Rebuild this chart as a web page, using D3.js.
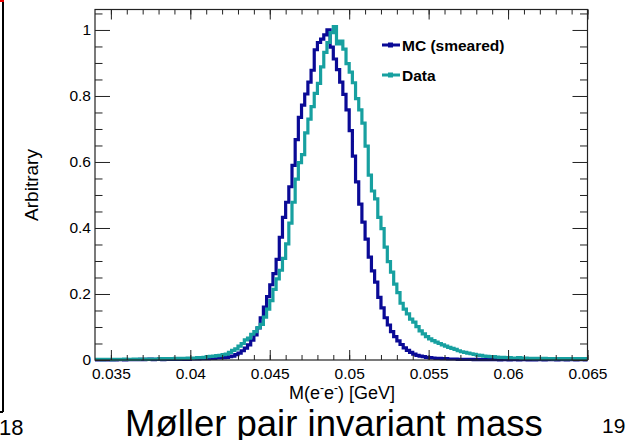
<!DOCTYPE html>
<html>
<head>
<meta charset="utf-8">
<script src="https://cdn.jsdelivr.net/npm/d3@7"></script>
<style>
  body { margin: 0; background: #fff; }
  svg text { font-family: "Liberation Sans", Arial, sans-serif; }
</style>
</head>
<body>
<script>
// histogram binning (GeV)
var binStart = 0.034;
var binWidth = 0.0002;

// MC (smeared), normalised to peak
var mcValues = [
  0.000,0.000,0.000,0.001,0.000,0.001,0.000,0.001,0.001,0.000,
  0.001,0.001,0.001,0.001,0.002,0.001,0.002,0.003,0.001,0.002,
  0.002,0.001,0.002,0.002,0.002,0.003,0.002,0.002,0.003,0.002,
  0.003,0.003,0.003,0.004,0.004,0.004,0.005,0.005,0.006,0.006,
  0.007,0.008,0.010,0.012,0.016,0.021,0.028,0.036,0.046,0.060,
  0.076,0.097,0.128,0.160,0.192,0.228,0.262,0.305,0.372,0.432,
  0.478,0.525,0.590,0.668,0.735,0.772,0.806,0.842,0.878,0.940,
  0.962,0.972,0.985,1.000,0.948,0.912,0.880,0.842,0.805,0.758,
  0.695,0.618,0.540,0.472,0.418,0.366,0.312,0.270,0.236,0.190,
  0.158,0.128,0.106,0.086,0.071,0.058,0.047,0.037,0.029,0.023,
  0.018,0.014,0.012,0.010,0.008,0.007,0.006,0.005,0.005,0.004,
  0.004,0.003,0.003,0.003,0.002,0.002,0.002,0.002,0.002,0.001,
  0.002,0.001,0.001,0.001,0.001,0.001,0.001,0.000,0.001,0.001,
  0.000,0.001,0.001,0.000,0.001,0.001,0.000,0.001,0.000,0.001,
  0.001,0.000,0.001,0.001,0.001,0.000,0.001,0.001,0.000,0.001,
  0.001,0.000,0.001,0.001,0.000
];

// Data, normalised to peak
var dataValues = [
  0.002,0.002,0.001,0.002,0.002,0.001,0.002,0.002,0.002,0.003,
  0.002,0.002,0.003,0.002,0.003,0.003,0.002,0.003,0.003,0.003,
  0.004,0.003,0.004,0.004,0.004,0.005,0.004,0.005,0.005,0.006,
  0.005,0.006,0.007,0.007,0.008,0.010,0.011,0.012,0.013,0.014,
  0.016,0.018,0.023,0.029,0.034,0.042,0.050,0.061,0.066,0.078,
  0.086,0.098,0.108,0.130,0.154,0.180,0.214,0.246,0.272,0.308,
  0.352,0.415,0.478,0.548,0.598,0.622,0.688,0.730,0.768,0.808,
  0.838,0.888,0.932,0.962,0.992,1.010,0.958,0.966,0.942,0.898,
  0.872,0.840,0.792,0.758,0.718,0.648,0.560,0.512,0.488,0.432,
  0.398,0.342,0.298,0.266,0.230,0.204,0.172,0.154,0.140,0.124,
  0.115,0.101,0.088,0.079,0.071,0.064,0.059,0.054,0.050,0.046,
  0.042,0.038,0.035,0.032,0.028,0.025,0.023,0.021,0.019,0.017,
  0.015,0.014,0.012,0.011,0.010,0.010,0.009,0.008,0.008,0.007,
  0.007,0.006,0.006,0.007,0.005,0.006,0.005,0.005,0.004,0.005,
  0.004,0.005,0.004,0.004,0.003,0.004,0.004,0.003,0.004,0.003,
  0.004,0.003,0.004,0.003,0.004
];

var seriesNames = ["MC (smeared)", "Data"];
var seriesColors = ["#0a0a96", "#17a0a0"];

var xTicks = [0.035, 0.04, 0.045, 0.05, 0.055, 0.06, 0.065];
var xTickLabels = ["0.035", "0.04", "0.045", "0.05", "0.055", "0.06", "0.065"];
var xMinor = [0.035,0.036,0.037,0.038,0.039,0.040,0.041,0.042,0.043,0.044,0.045,0.046,0.047,0.048,0.049,0.050,
              0.051,0.052,0.053,0.054,0.055,0.056,0.057,0.058,0.059,0.060,0.061,0.062,0.063,0.064,0.065];
var yTicks = [0, 0.2, 0.4, 0.6, 0.8, 1];
var yTickLabels = ["0", "0.2", "0.4", "0.6", "0.8", "1"];
var yMinor = [0.05,0.1,0.15,0.25,0.3,0.35,0.45,0.5,0.55,0.65,0.7,0.75,0.85,0.9,0.95,1.05];

var svg = d3.select("body").append("svg").attr("width", 626).attr("height", 440);

var x = d3.scaleLinear().domain([0.034, 0.065]).range([95, 587.5]);
var y = d3.scaleLinear().domain([0, 1.062]).range([360, 9.5]);

// slide leftovers
svg.append("line").attr("x1", 3).attr("x2", 3).attr("y1", 0).attr("y2", 412).attr("stroke", "#000").attr("stroke-width", 2);
svg.append("line").attr("x1", 0).attr("x2", 3).attr("y1", 412).attr("y2", 412).attr("stroke", "#000").attr("stroke-width", 2);
svg.append("line").attr("x1", 0).attr("x2", 4).attr("y1", 1).attr("y2", 1).attr("stroke", "#e00").attr("stroke-width", 2);
svg.append("text").attr("x", -1).attr("y", 435).attr("font-size", 22).text("18");
svg.append("text").attr("x", 602).attr("y", 433).attr("font-size", 21).text("19");

// histograms
function histPoints(values){
  var pts = values.map(function(v,i){ return [binStart + i*binWidth, v]; });
  pts.push([binStart + values.length*binWidth, values[values.length-1]]);
  return pts;
}
var line = d3.line().x(function(d){ return x(d[0]); }).y(function(d){ return y(d[1]); }).curve(d3.curveStepAfter);

var allSeries = [mcValues, dataValues];
allSeries.forEach(function(vals,i){
  svg.append("path").attr("d", line(histPoints(vals)))
    .attr("fill", "none").attr("stroke", seriesColors[i]).attr("stroke-width", 3.2)
    .attr("stroke-linejoin", "miter");
});

// axes (ROOT style, ticks inside)
function styleAxis(g){
  g.select(".domain").remove();
  g.selectAll(".tick line").attr("stroke", "#222");
  g.selectAll("text").attr("font-size", 15.5).attr("fill", "#000").attr("font-family", "Liberation Sans, Arial, sans-serif");
}
svg.append("g").attr("transform", "translate(0,360)")
  .call(d3.axisBottom(x).tickValues(xTicks).tickFormat(function(d,i){ return xTickLabels[i]; }).tickSizeInner(-10).tickSizeOuter(0).tickPadding(8))
  .call(styleAxis);
svg.append("g").attr("transform", "translate(0,360)")
  .call(d3.axisBottom(x).tickValues(xMinor).tickFormat("").tickSizeInner(-5).tickSizeOuter(0))
  .call(styleAxis);
svg.append("g").attr("transform", "translate(0,9.5)")
  .call(d3.axisTop(x).tickValues(xTicks).tickFormat("").tickSizeInner(-10).tickSizeOuter(0))
  .call(styleAxis);
svg.append("g").attr("transform", "translate(0,9.5)")
  .call(d3.axisTop(x).tickValues(xMinor).tickFormat("").tickSizeInner(-5).tickSizeOuter(0))
  .call(styleAxis);
svg.append("g").attr("transform", "translate(95,0)")
  .call(d3.axisLeft(y).tickValues(yTicks).tickFormat(function(d,i){ return yTickLabels[i]; }).tickSizeInner(-15).tickSizeOuter(0).tickPadding(4))
  .call(styleAxis);
svg.append("g").attr("transform", "translate(95,0)")
  .call(d3.axisLeft(y).tickValues(yMinor).tickFormat("").tickSizeInner(-7.5).tickSizeOuter(0))
  .call(styleAxis);
svg.append("g").attr("transform", "translate(587.5,0)")
  .call(d3.axisRight(y).tickValues(yTicks).tickFormat("").tickSizeInner(-15).tickSizeOuter(0))
  .call(styleAxis);
svg.append("g").attr("transform", "translate(587.5,0)")
  .call(d3.axisRight(y).tickValues(yMinor).tickFormat("").tickSizeInner(-7.5).tickSizeOuter(0))
  .call(styleAxis);

// frame
svg.append("rect").attr("x", 95).attr("y", 9.5).attr("width", 492.5).attr("height", 350.5)
  .attr("fill", "none").attr("stroke", "#222").attr("stroke-width", 1.2);

// axis titles
svg.append("text").attr("transform", "translate(38,185) rotate(-90)")
  .attr("text-anchor", "middle").attr("font-size", 19).text("Arbitrary");

var xt = svg.append("text").attr("x", 342).attr("y", 399).attr("text-anchor", "middle").attr("font-size", 18);
xt.append("tspan").text("M(e");
xt.append("tspan").attr("dy", -7).attr("font-size", 12).text("-");
xt.append("tspan").attr("dy", 7).text("e");
xt.append("tspan").attr("dy", -7).attr("font-size", 12).text("-");
xt.append("tspan").attr("dy", 7).text(") [GeV]");

// legend
var legend = svg.append("g");
seriesNames.forEach(function(name,i){
  var ly = 45 + i*30;
  legend.append("line").attr("x1", 382).attr("x2", 400).attr("y1", ly).attr("y2", ly)
    .attr("stroke", seriesColors[i]).attr("stroke-width", 3);
  legend.append("rect").attr("x", 388).attr("y", ly-2.5).attr("width", 5).attr("height", 5).attr("fill", seriesColors[i]);
  legend.append("text").attr("x", 402).attr("y", ly+5.5).attr("font-size", 15.5).attr("font-weight", "bold").text(name);
});

// slide title
svg.append("text").attr("x", 125).attr("y", 436).attr("font-size", 36.5).text("Møller pair invariant mass");
</script>
</body>
</html>
